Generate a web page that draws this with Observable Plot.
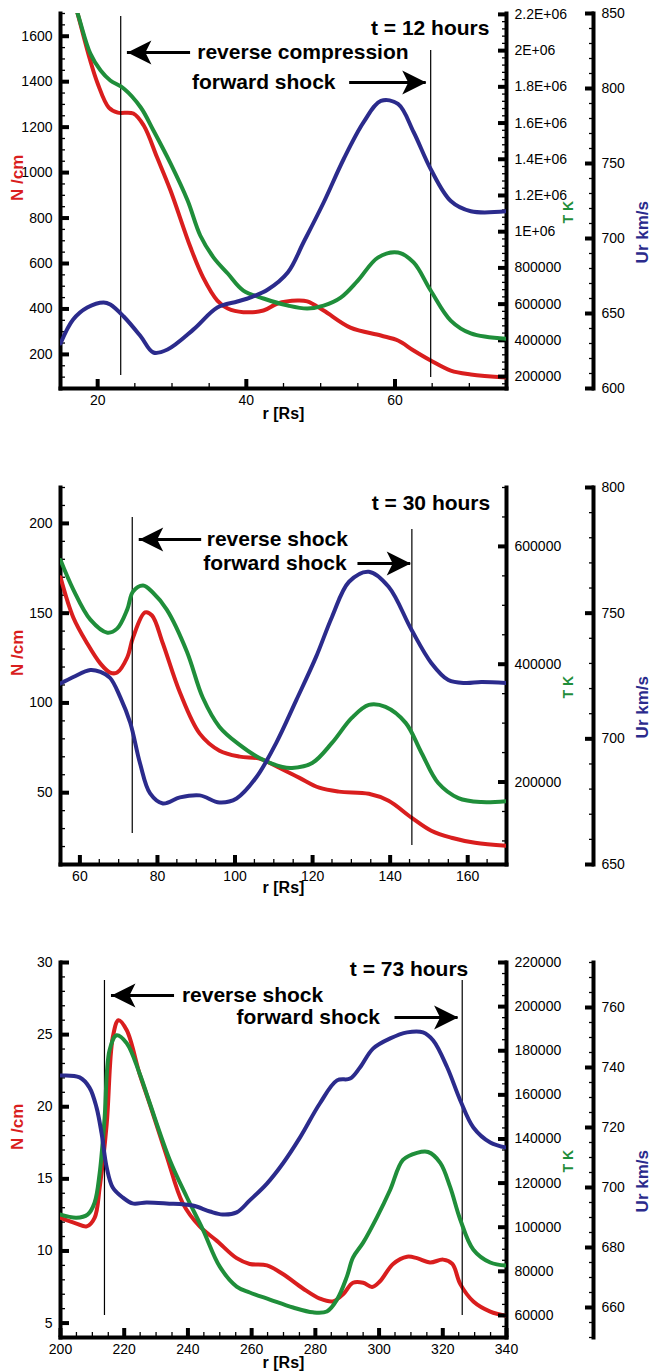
<!DOCTYPE html>
<html><head><meta charset="utf-8">
<script src="https://cdn.jsdelivr.net/npm/d3@7"></script>
<script src="https://cdn.jsdelivr.net/npm/@observablehq/plot@0.6"></script>
<style>
body{margin:0;background:#fff;}
#chart{position:relative;width:650px;height:1372px;font-family:"Liberation Sans",Arial,Helvetica,sans-serif;}
</style></head><body><div id="chart"></div>
<script>
// ---------- DATA ----------
// Panel 1: t = 12 hours  [r (Rs), value]
const p1Density = [[15,1980],[17.3,1700],[19.0,1493],[20.0,1392],[21.5,1286],[22.7,1264],[24.8,1260],[26.2,1207],[28.0,1066],[29.8,921],[32.5,670],[34.2,538],[36.1,437],[37.5,402],[39.6,386],[42.3,393],[44.2,424],[46.9,437],[48.2,433],[50.4,393],[54.0,318],[58.1,283],[60.4,261],[62.5,217],[64.8,173],[67.5,129],[70.2,112],[75,98]];
const p1Temp = [[15,2500000],[17.3,2206000],[19.0,1985000],[20.4,1890000],[21.7,1835000],[23.5,1791000],[25.8,1686000],[27.5,1559000],[29.8,1377000],[32.1,1172000],[33.8,979000],[35.6,857000],[37.5,769000],[39.6,675000],[42.3,631000],[45.6,592000],[48.2,576000],[50.4,592000],[52.7,636000],[55.0,730000],[57.7,857000],[60.4,885000],[62.5,830000],[64.8,675000],[67.5,509000],[70.2,438000],[75,408000]];
const p1Speed = [[15,630],[16.7,646],[18.6,654],[20.8,657.4],[21.7,656],[23.5,648],[25.8,634.7],[27.5,624],[29.4,626],[32.9,639.4],[36.1,654],[38.8,658],[40.6,660.8],[42.9,666],[45.6,677.5],[47.7,697.5],[50.4,724],[53.1,753],[55.8,777.7],[58.1,791.7],[60.4,789.7],[62.5,771],[64.8,746.3],[67.5,725],[70.2,718.2],[75,718.2]];
// Panel 2: t = 30 hours
const p2Density = [[55,170],[58.3,147.6],[61.9,133.1],[65.3,121.9],[67.8,116.9],[69.6,116.9],[72.2,125.3],[73.7,136.4],[76.8,150.4],[78.6,148.7],[81.4,133.1],[85.8,105.8],[90.9,82.9],[96.0,73.4],[101.2,70.1],[106.3,69.0],[111.4,63.9],[116.5,58.4],[121.7,52.8],[126.8,50.6],[134.5,49.4],[139.6,45.5],[145.5,36.1],[150.6,28.8],[155.8,24.9],[161.9,22.1],[170,20.4]];
const p2Temp = [[55,577000],[58.3,526800],[62.7,475700],[67.1,453600],[69.6,460400],[72.2,492700],[73.7,523400],[76.3,533600],[78.8,521700],[82.4,492700],[87.6,421300],[91.7,343000],[96.0,293600],[101.2,263000],[106.3,240800],[112.2,225500],[114.7,223800],[119.9,232300],[125.0,266400],[130.1,308900],[134.5,331000],[138.8,327600],[144.0,300400],[148.1,249400],[152.4,198300],[157.6,172800],[163.5,166000],[170,167600]];
const p2Speed = [[55,722],[58.3,724.6],[62.7,727.4],[65.3,726.6],[67.8,724.2],[70.4,716.6],[73.0,706.3],[75.5,690.3],[78.1,678.3],[81.4,674.3],[85.8,676.7],[90.9,677.5],[96.0,674.7],[100.4,676.3],[105.5,684.7],[110.6,698.3],[115.8,715.4],[120.9,732.6],[125.0,748.5],[129.4,762.5],[134.5,766.5],[139.6,760.5],[145.5,743.4],[150.6,730.2],[155.0,723.4],[159.4,722.2],[163.5,722.6],[170,722.2]];
// Panel 3: t = 73 hours
const p3Density = [[200,12.3],[205.0,11.9],[208.2,11.7],[210.7,12.3],[212.3,14.4],[214.5,18.8],[216.4,24.8],[218.2,26.0],[220.8,25.3],[224.8,22.3],[228.0,20.2],[233.3,16.6],[238.4,13.3],[243.7,11.7],[249.1,10.7],[255.3,9.5],[259.4,9.1],[264.8,9.0],[269.8,8.4],[276.1,7.4],[281.4,6.7],[285.5,6.5],[288.7,7.0],[291.8,7.8],[295.0,7.8],[297.8,7.5],[300.3,7.9],[304.4,9.1],[308.8,9.6],[311.9,9.5],[316.0,9.2],[320.1,9.4],[323.0,9.1],[325.5,7.7],[329.6,6.5],[334.9,5.8],[340,5.5]];
const p3Temp = [[200,105700],[205.0,104300],[208.5,105700],[210.7,111100],[212.3,124600],[213.8,148600],[215.4,180200],[217.6,187000],[220.8,183400],[224.8,169800],[228.0,156300],[234.3,130500],[239.6,113800],[244.7,98900],[250.0,82100],[255.3,73100],[259.4,70400],[265.7,67200],[273.0,63600],[279.2,61400],[283.6,61800],[286.8,67200],[289.9,77600],[291.8,86200],[295.0,93000],[299.4,104700],[303.5,117000],[307.5,130500],[311.9,133700],[315.4,134100],[319.2,129200],[322.3,118300],[325.5,103400],[329.6,89800],[334.9,84000],[340,82600]];
const p3Speed = [[200,737.3],[206.0,736.7],[209.1,733.3],[211.3,726.7],[212.9,718.0],[214.5,706.7],[216.4,700.0],[219.5,696.7],[222.6,694.7],[227.0,695.0],[233.3,694.7],[241.5,694.0],[246.9,692.0],[250.9,691.0],[255.3,691.7],[259.4,695.7],[264.8,701.3],[269.8,708.0],[275.2,716.7],[281.4,728.0],[286.8,735.7],[290.9,736.3],[294.0,740.0],[298.1,746.3],[303.5,749.7],[308.8,751.7],[313.8,751.7],[317.0,749.0],[321.4,740.0],[325.5,729.0],[329.6,720.0],[334.9,715.0],[340,713.3]];

// Tick labels
const xTicks1 = [20,40,60];
const xTicks2 = [60,80,100,120,140,160];
const xTicks3 = [200,220,240,260,280,300,320,340];
const nTicks1 = [200,400,600,800,1000,1200,1400,1600];
const nTicks2 = [50,100,150,200];
const nTicks3 = [5,10,15,20,25,30];
const tTicks1 = [200000,400000,600000,800000,1000000,1200000,1400000,1600000,1800000,2000000,2200000];
const tTicks2 = [200000,400000,600000];
const tTicks3 = [60000,80000,100000,120000,140000,160000,180000,200000,220000];
const uTicks1 = [600,650,700,750,800,850];
const uTicks2 = [650,700,750,800];
const uTicks3 = [660,680,700,720,740,760];

// Shock positions (r, Rs) and annotation texts
const shocks1 = [23.1, 64.8];
const shocks2 = [73.5, 145.6];
const shocks3 = [213.8, 326.1];
const titles = ["t = 12 hours", "t = 30 hours", "t = 73 hours"];
const reverseLabels = ["reverse compression", "reverse shock", "reverse shock"];
const forwardLabel = "forward shock";

// ---------- LAYOUT / STYLE ----------
const RED = "#d91e1e", GREEN = "#1f8e3a", BLUE = "#2b2b8c";
const FONT = "Liberation Sans, Arial, Helvetica, sans-serif";
const W = 650, ML = 60, MR = 144, UR_OFFSET = 87;
const MAJ = 9, MIN = 5;

const panels = [
  {top:0, height:470, mt:13, mb:82, x:[15,75], xt:xTicks1, xm:d3.range(15,76,5),
   n:[50,1700], nt:nTicks1, nm:d3.range(100,1701,50),
   t:[134000,2205000], tt:tTicks1, tm:d3.range(160000,2200001,40000),
   u:[600,850], ut:uTicks1, um:d3.range(600,851,10),
   N:p1Density, T:p1Temp, U:p1Speed, shocks:shocks1,
   shockInsets:[[3,13],[37,11]], xLabelDy:25,
   ann:{title:titles[0], titleX:72.7, titleDy:15,
        rev:reverseLabels[0], revText:33.4, revTip:24.0, revTail:32.5, revDy:39,
        fwdText:52.0, fwdTail:53.9, fwdTip:64.2, fwdDy:69}},
  {top:470, height:470, mt:17, mb:76, x:[55,170], xt:xTicks2, xm:d3.range(55,171,5),
   n:[10,220], nt:nTicks2, nm:d3.range(10,221,10),
   t:[60000,700000], tt:tTicks2, tm:d3.range(100000,700001,50000),
   u:[650,800], ut:uTicks2, um:d3.range(650,801,10),
   N:p2Density, T:p2Temp, U:p2Speed, shocks:shocks2,
   shockInsets:[[30,31],[42,19]], xLabelDy:23,
   ann:{title:titles[1], titleX:165.8, titleDy:16,
        rev:reverseLabels[1], revText:92.7, revTip:75.3, revTail:91.4, revDy:52,
        fwdText:128.8, fwdTail:131.7, fwdTip:145.3, fwdDy:76}},
  {top:940, height:432, mt:22, mb:35, x:[200,340], xt:xTicks3, xm:d3.range(200,341,5),
   n:[4,30], nt:nTicks3, nm:d3.range(4,31,1),
   t:[50000,220000], tt:tTicks3, tm:d3.range(50000,220001,5000),
   u:[650,775], ut:uTicks3, um:d3.range(650,776,5),
   N:p3Density, T:p3Temp, U:p3Speed, shocks:shocks3,
   shockInsets:[[18,22],[18,22]], xLabelDy:25,
   ann:{title:titles[2], titleX:328.0, titleDy:7,
        rev:reverseLabels[2], revText:238.1, revTip:216.0, revTail:235.8, revDy:33,
        fwdText:300.3, fwdTail:305.0, fwdTip:324.8, fwdDy:55}}
];

const fmtT = v => v >= 1e6 ? `${+(v/1e6).toFixed(1)}E+06` : String(v);
const head = {draw(ctx){ctx.moveTo(0,0);ctx.lineTo(-24,-12);ctx.lineTo(-18,0);ctx.lineTo(-24,12);ctx.closePath();}};

// inward-pointing ticks: draw outward ticks and shift them inside the frame
function yAxis(major, minor, anchor, fmt, shift) {
  const s = anchor === "left" ? 1 : -1;
  return [
    Plot.axisY(minor, {anchor, tickSize:MIN, strokeWidth:1.3, fill:"none", dx:shift + s*MIN, label:null}),
    Plot.axisY(major, {anchor, tickSize:MAJ, strokeWidth:4, fill:"none", dx:shift + s*MAJ, label:null}),
    Plot.axisY(major, {anchor, tickSize:0, tickPadding:8, dx:shift, label:null, tickFormat:fmt, fontSize:14, fill:"black"})
  ];
}
const lineOpts = (stroke) => ({x:d=>d[0], y:d=>d[1], stroke, strokeWidth:4, curve:"catmull-rom", clip:true, strokeLinejoin:"round"});
const bold = {fontWeight:"bold", fontSize:21, fill:"black", lineAnchor:"middle"};

const chart = document.getElementById("chart");
function add(p, yDomain, marks) {
  const svg = Plot.plot({
    width:W, height:p.height, marginTop:p.mt, marginBottom:p.mb, marginLeft:ML, marginRight:MR,
    x:{domain:p.x, axis:null}, y:{domain:yDomain, axis:null},
    style:{background:"transparent", fontFamily:FONT, fontSize:"14px", overflow:"visible"},
    marks
  });
  svg.style.position = "absolute";
  svg.style.left = "0px";
  svg.style.top = p.top + "px";
  chart.append(svg);
}

for (const p of panels) {
  const a = p.ann;
  const fc = (p.mt + p.height - p.mb) / 2; // frame vertical centre
  // Density (left axis) + frame, x axis, annotations
  add(p, p.n, [
    Plot.frame({anchor:"left", strokeWidth:4, strokeLinecap:"square"}),
    Plot.frame({anchor:"bottom", strokeWidth:4, strokeLinecap:"square"}),
    Plot.frame({anchor:"right", strokeWidth:4, strokeLinecap:"square"}),
    Plot.axisX(p.xm, {anchor:"bottom", tickSize:MIN, strokeWidth:1.3, fill:"none", dy:-MIN, label:null}),
    Plot.axisX(p.xt, {anchor:"bottom", tickSize:MAJ, strokeWidth:4, fill:"none", dy:-MAJ, label:null}),
    Plot.axisX(p.xt, {anchor:"bottom", tickSize:0, tickPadding:7, tickFormat:d=>String(d), fontSize:14, fill:"black", label:null}),
    ...yAxis(p.nt, p.nm, "left", d=>String(d), 0),
    Plot.text(["N /cm"], {frameAnchor:"left", dx:-43, rotate:-90, fill:RED, fontWeight:"bold", fontSize:17}),
    Plot.text(["r [Rs]"], {frameAnchor:"bottom", dy:p.xLabelDy, lineAnchor:"middle", fontWeight:"bold", fontSize:16, fill:"black"}),
    Plot.line(p.N, lineOpts(RED)),
    Plot.ruleX([p.shocks[0]], {stroke:"black", strokeWidth:1.2, insetTop:p.shockInsets[0][0], insetBottom:p.shockInsets[0][1]}),
    Plot.ruleX([p.shocks[1]], {stroke:"black", strokeWidth:1.2, insetTop:p.shockInsets[1][0], insetBottom:p.shockInsets[1][1]}),
    Plot.text([a.title], {x:[a.titleX], frameAnchor:"top", dy:a.titleDy, textAnchor:"end", ...bold}),
    Plot.text([a.rev], {x:[a.revText], frameAnchor:"top", dy:a.revDy, textAnchor:"start", ...bold}),
    Plot.text([forwardLabel], {x:[a.fwdText], frameAnchor:"top", dy:a.fwdDy, textAnchor:"end", ...bold}),
    Plot.ruleY([0], {y:null, x1:[a.revTail], x2:[a.revTip], dy:p.mt + a.revDy - fc, stroke:"black", strokeWidth:3}),
    Plot.ruleY([0], {y:null, x1:[a.fwdTail], x2:[a.fwdTip], dy:p.mt + a.fwdDy - fc, stroke:"black", strokeWidth:3}),
    Plot.dot([0], {x:[a.revTip], frameAnchor:"top", dy:a.revDy, symbol:head, rotate:180, fill:"black", stroke:"none"}),
    Plot.dot([0], {x:[a.fwdTip], frameAnchor:"top", dy:a.fwdDy, symbol:head, rotate:0, fill:"black", stroke:"none"})
  ]);
  // Temperature (inner right axis)
  add(p, p.t, [
    ...yAxis(p.tt, p.tm, "right", fmtT, 0),
    Plot.text(["T K"], {frameAnchor:"right", dx:62, rotate:-90, fill:GREEN, fontWeight:"bold", fontSize:14}),
    Plot.line(p.T, lineOpts(GREEN))
  ]);
  // Speed (outer right axis)
  add(p, p.u, [
    Plot.frame({anchor:"right", strokeWidth:4, strokeLinecap:"square", dx:UR_OFFSET}),
    ...yAxis(p.ut, p.um, "right", d=>String(d), UR_OFFSET),
    Plot.text(["Ur km/s"], {frameAnchor:"right", dx:136, rotate:-90, fill:BLUE, fontWeight:"bold", fontSize:17}),
    Plot.line(p.U, lineOpts(BLUE))
  ]);
}
</script></body></html>
